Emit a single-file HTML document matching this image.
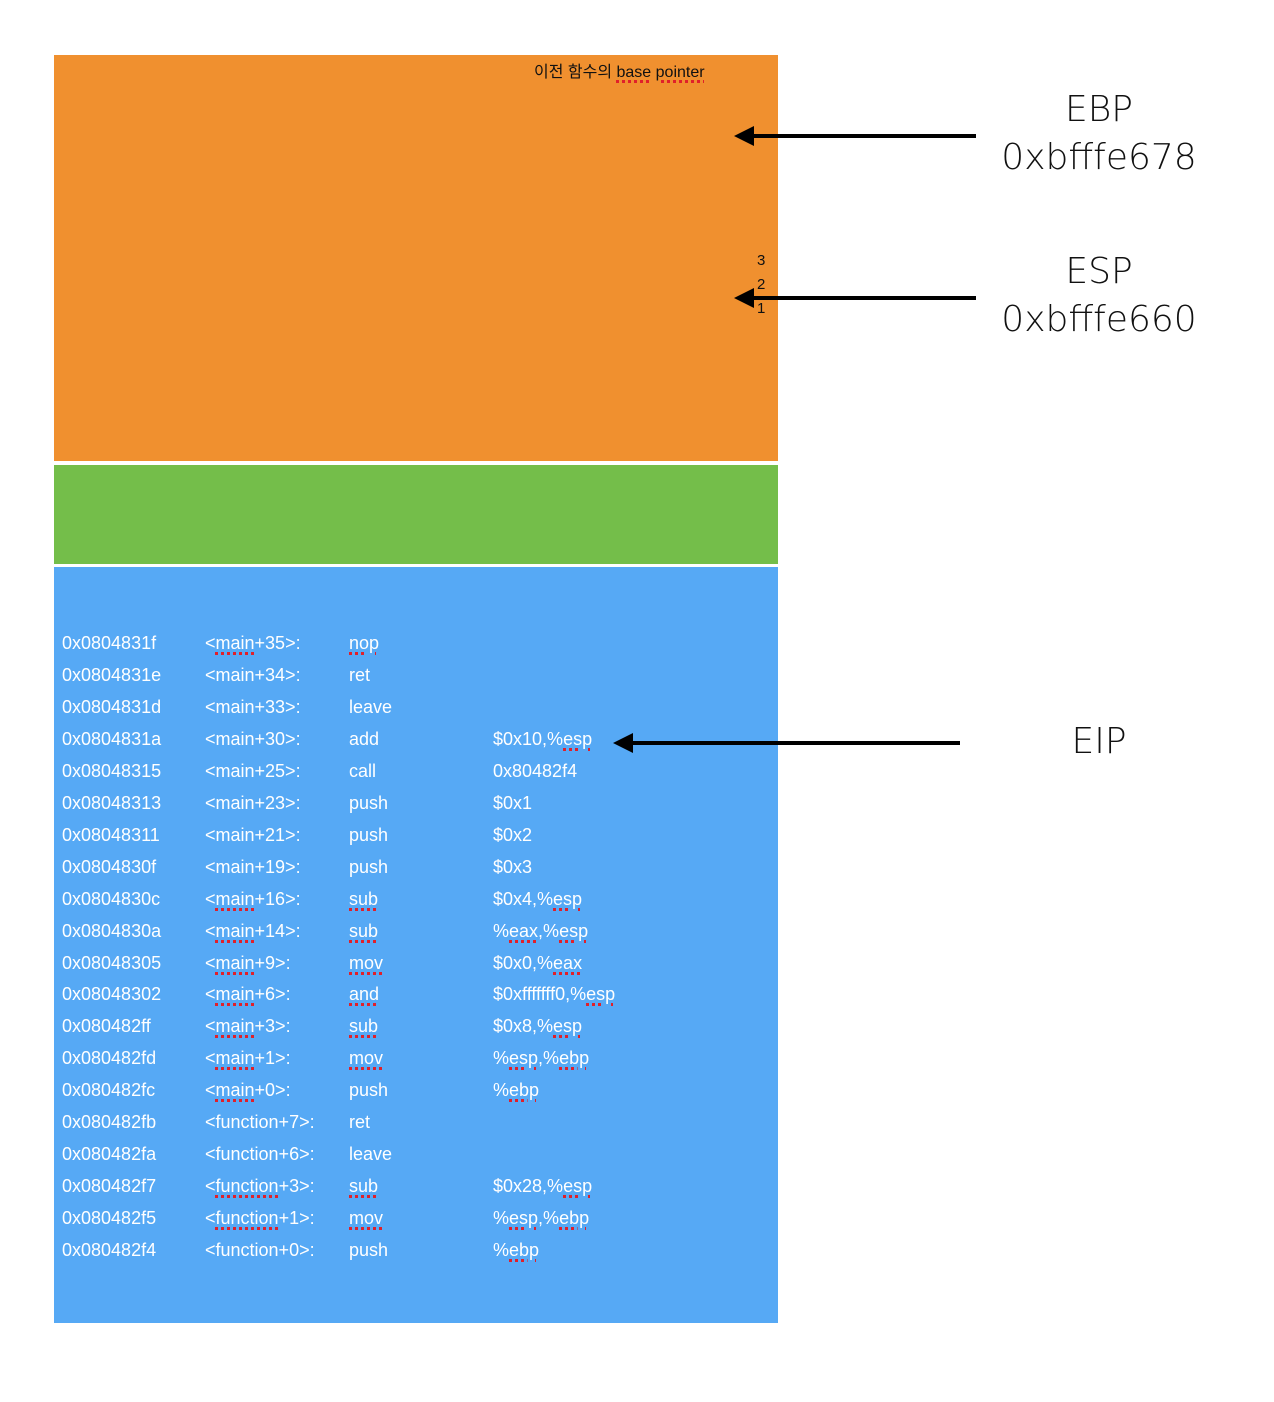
<!DOCTYPE html>
<html><head><meta charset="utf-8"><style>
html,body{margin:0;padding:0;background:#fff;width:1274px;height:1402px;overflow:hidden}
body{position:relative;font-family:"Liberation Sans","Noto Sans CJK KR",sans-serif}
.b{position:absolute;left:54px;width:724px}
.r{position:absolute;font-size:18px;color:#fff;line-height:22px;white-space:nowrap}
.u{text-decoration:underline dotted #e0202a;text-decoration-thickness:3px;text-underline-offset:3px}
.lab{position:absolute;font-size:36px;color:#111;text-align:center;width:260px;left:969px;line-height:48px;font-family:"DejaVu Sans",sans-serif;font-weight:300}
.n{position:absolute;font-size:15px;color:#111;left:757px;line-height:18px}
</style></head><body>
<div class="b" style="top:55px;height:406px;background:#F0902F"></div>
<div class="b" style="top:465px;height:99px;background:#74BE4A"></div>
<div class="b" style="top:567px;height:756px;background:#56A9F5"></div>

<div style="position:absolute;left:534px;top:58px;font-size:16px;color:#111;white-space:nowrap">이전 함수의 <span class="u">base</span> <span class="u">pointer</span></div>
<div class="n" style="top:252px">3</div>
<div class="n" style="top:276px">2</div>
<div class="n" style="top:300px">1</div>

<svg style="position:absolute;left:0;top:0" width="1274" height="1402">
<g stroke="#000" stroke-width="4"><line x1="976" y1="136" x2="750" y2="136"/><line x1="976" y1="298" x2="750" y2="298"/><line x1="960" y1="743" x2="630" y2="743"/></g>
<polygon points="734,136 754,126 754,146"/>
<polygon points="734,298 754,288 754,308"/>
<polygon points="613,743 633,733 633,753"/>
</svg>

<div class="lab" style="top:86px">EBP<br>0xbfffe678</div>
<div class="lab" style="top:248px">ESP<br>0xbfffe660</div>
<div class="lab" style="top:718px">EIP</div>

<div id="rows"></div>
<script>
var d=[["0x0804831f","<u>main</u>+35>:","<u>nop</u>",""],
["0x0804831e","main+34>:","ret",""],
["0x0804831d","main+33>:","leave",""],
["0x0804831a","main+30>:","add","$0x10,%<u>esp</u>"],
["0x08048315","main+25>:","call","0x80482f4"],
["0x08048313","main+23>:","push","$0x1"],
["0x08048311","main+21>:","push","$0x2"],
["0x0804830f","main+19>:","push","$0x3"],
["0x0804830c","<u>main</u>+16>:","<u>sub</u>","$0x4,%<u>esp</u>"],
["0x0804830a","<u>main</u>+14>:","<u>sub</u>","%<u>eax</u>,%<u>esp</u>"],
["0x08048305","<u>main</u>+9>:","<u>mov</u>","$0x0,%<u>eax</u>"],
["0x08048302","<u>main</u>+6>:","<u>and</u>","$0xfffffff0,%<u>esp</u>"],
["0x080482ff","<u>main</u>+3>:","<u>sub</u>","$0x8,%<u>esp</u>"],
["0x080482fd","<u>main</u>+1>:","<u>mov</u>","%<u>esp</u>,%<u>ebp</u>"],
["0x080482fc","<u>main</u>+0>:","push","%<u>ebp</u>"],
["0x080482fb","function+7>:","ret",""],
["0x080482fa","function+6>:","leave",""],
["0x080482f7","<u>function</u>+3>:","<u>sub</u>","$0x28,%<u>esp</u>"],
["0x080482f5","<u>function</u>+1>:","<u>mov</u>","%<u>esp</u>,%<u>ebp</u>"],
["0x080482f4","function+0>:","push","%<u>ebp</u>"]];
var h="",xs=[62,205,349,493];
function f(s){return s.replace(/<u>/g,'<span class="u">').replace(/<\/u>/g,'</span>');}
d.forEach(function(r,i){var t=632+i*31.95;
r[1]="&lt;"+r[1].replace(/>:/,"&gt;:");
for(var j=0;j<4;j++)h+='<div class="r" style="left:'+xs[j]+'px;top:'+t+'px">'+f(r[j])+'</div>';});
document.getElementById("rows").innerHTML=h;
</script>
</body></html>
